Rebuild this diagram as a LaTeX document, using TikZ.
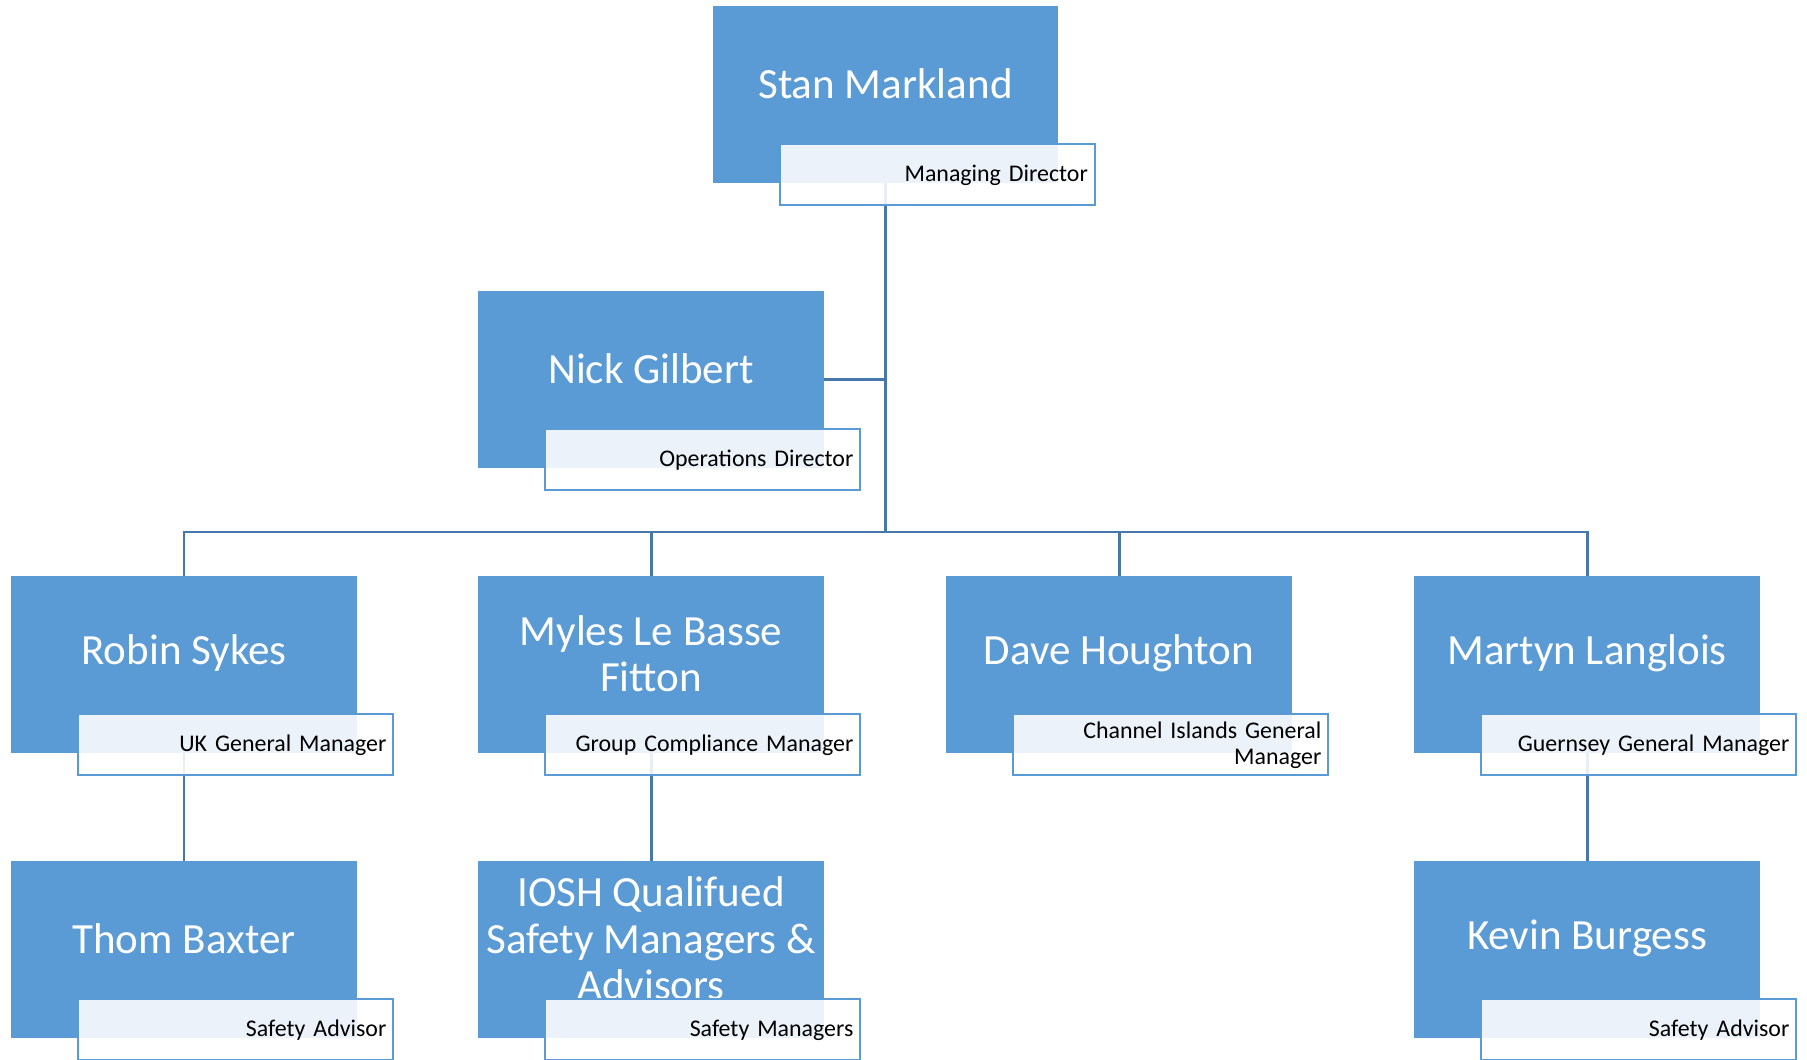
\documentclass[tikz,border=0pt]{standalone}
\usepackage{fontspec}
\setmainfont{Carlito}
\usepackage{tikz}
\usetikzlibrary{backgrounds}

\definecolor{boxblue}{RGB}{91,155,213}
\definecolor{linkblue}{RGB}{70,120,170}

\begin{document}
\begin{tikzpicture}[x=0.02cm,y=-0.02cm]
  \tikzstyle{namebox}=[fill=boxblue,draw=none,minimum width=6.92cm,minimum height=3.54cm,inner sep=0pt]
  \tikzstyle{nametext}=[text=white,align=center,inner sep=0pt,font=\fontsize{24.5pt}{26.5pt}\selectfont]
  \tikzstyle{rolebox}=[fill=white,fill opacity=0.88,text opacity=1,draw=boxblue,line width=1.1pt,
    minimum height=1.22cm,text width=6.02cm,inner xsep=0.14cm,inner ysep=0pt,align=right,
    anchor=south east,font=\fontsize{13.6pt}{14.8pt}\selectfont]
  \tikzstyle{link}=[draw=linkblue,line width=1.7pt]

  \useasboundingbox (0,0) rectangle (1807,1060);

  % boxes
  \node[namebox] (SM) at (885.5,94.5) {};
  \node[namebox] (NG) at (651,379.5) {};
  \node[namebox] (RS) at (184,664.5) {};
  \node[namebox] (ML) at (651,664.5) {};
  \node[namebox] (DH) at (1119,664.5) {};
  \node[namebox] (MA) at (1587,664.5) {};
  \node[namebox] (TB) at (184,949.5) {};
  \node[namebox] (IQ) at (651,949.5) {};
  \node[namebox] (KB) at (1587,949.5) {};

  % names
  \node[nametext] (SMn) at ([shift={(0,-11)}]SM.center) {Stan Markland};
  \node[nametext] (NGn) at ([shift={(0,-11)}]NG.center) {Nick Gilbert};
  \node[nametext] (RSn) at ([shift={(0,-11)}]RS.center) {Robin Sykes};
  \node[nametext] (MLn) at ([shift={(0,-11)}]ML.center) {Myles Le Basse\\Fitton};
  \node[nametext] (DHn) at ([shift={(0,-11)}]DH.center) {Dave Houghton};
  \node[nametext] (MAn) at ([shift={(0,-11)}]MA.center) {Martyn Langlois};
  \node[nametext] (TBn) at ([shift={(0,-11)}]TB.center) {Thom Baxter};
  \node[nametext] (IQn) at ([shift={(0,-11)}]IQ.center) {IOSH Qualifued\\Safety Managers \&\\Advisors};
  \node[nametext] (KBn) at ([shift={(0,-11)}]KB.center) {Kevin Burgess};

  % roles
  \node[rolebox] (SMr) at ([shift={(37,23)}]SM.south east) {Managing Director};
  \node[rolebox] (NGr) at ([shift={(37,23)}]NG.south east) {Operations Director};
  \node[rolebox] (RSr) at ([shift={(37,23)}]RS.south east) {UK General Manager};
  \node[rolebox] (MLr) at ([shift={(37,23)}]ML.south east) {Group Compliance Manager};
  \node[rolebox] (DHr) at ([shift={(37,23)}]DH.south east) {Channel Islands General\\Manager};
  \node[rolebox] (MAr) at ([shift={(37,23)}]MA.south east) {Guernsey General Manager};
  \node[rolebox] (TBr) at ([shift={(37,23)}]TB.south east) {Safety Advisor};
  \node[rolebox] (IQr) at ([shift={(37,23)}]IQ.south east) {Safety Managers};
  \node[rolebox] (KBr) at ([shift={(37,23)}]KB.south east) {Safety Advisor};

  \coordinate (bar) at (885.5,532);

  \begin{pgfonlayer}{background}
    \path[link] (SM) edge (bar)
      (NG.east) edge (NG.east -| SM)
      (RS) edge (TB)
      (ML) edge (IQ)
      (MA) edge (KB);
    \draw[link] (RS.north) |- (bar) -| (MA.north);
    \draw[link] (ML.north) -- (ML.north |- bar);
    \draw[link] (DH.north) -- (DH.north |- bar);
  \end{pgfonlayer}
\end{tikzpicture}
\end{document}
